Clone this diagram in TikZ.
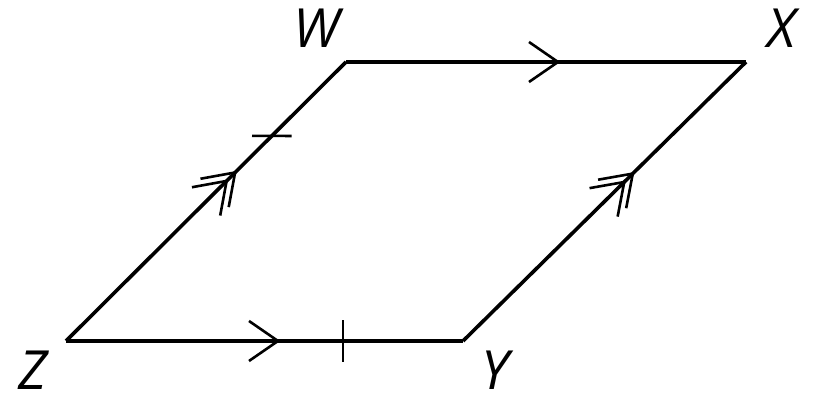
\documentclass[tikz,border=0pt]{standalone}
\usepackage{fontspec}
\setmainfont{Open Sans}
\usetikzlibrary{decorations.markings}

\begin{document}
\begin{tikzpicture}[
  x=0.5pt, y=0.5pt,
  font=\fontsize{27}{30}\selectfont\itshape,
  side/.style={line width=1.8pt, line join=miter},
  lbl/.style={anchor=base, inner sep=0pt},
  mk/.style={line width=1.3pt},
  onechev/.style={postaction={decorate, decoration={markings,
      mark=at position #1 with {\draw[mk] (-29,20) -- (0,0) -- (-29,-20);}}}},
  twochev/.style={postaction={decorate, decoration={markings,
      mark=at position #1 with {\draw[mk] (-29,20) -- (0,0) -- (-29,-20);
                               \draw[mk] (-41,20) -- (-12,0) -- (-41,-20);}}}},
  vtick/.style={postaction={decorate, decoration={markings,
      mark=at position #1 with {\draw[mk] (0,-21) -- (0,21);}}}},
  htick/.style={postaction={decorate, decoration={markings,
      mark=at position #1 with {\draw[mk] (-14,14) -- (14,-14);}}}}
]
\useasboundingbox (0,0) rectangle (814,399);
\coordinate (Z) at (66,58);
\coordinate (W) at (346,337);
\coordinate (X) at (746,337);
\coordinate (Y) at (463,58);
\draw[side, onechev=0.53] (W) -- (X);
\draw[side, twochev=0.60] (Y) -- (X);
\draw[side, onechev=0.534, vtick=0.698] (Z) -- (Y);
\draw[side, twochev=0.604, htick=0.735] (Z) -- (W);
\node[lbl] (lW) at (317,351) {W};
\node[lbl] (lX) at (782,351) {X};
\node[lbl] (lZ) at (33,9) {Z};
\node[lbl] (lY) at (495,9) {Y};
\end{tikzpicture}
\end{document}
